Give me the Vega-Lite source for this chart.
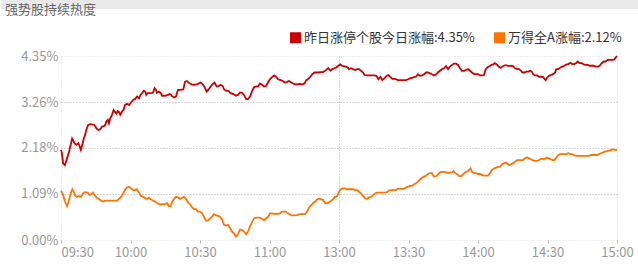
{
  "$schema": "https://vega.github.io/schema/vega-lite/v6.json",
  "padding": 0,
  "background": "white",
  "columns": 1,
  "align": "none",
  "spacing": 13,
  "resolve": {"scale": {"color": "independent"}, "legend": {"color": "independent"}},
  "config": {"font": "Noto Sans CJK SC", "view": {"stroke": null}},
  "datasets": {
    "zt": [
      {"m":0,"v":2.13},{"m":0.4,"v":2.05},{"m":0.9,"v":1.81},{"m":1.7,"v":1.77},{"m":2.6,"v":1.93},{"m":3.5,"v":2.09},{"m":4.0,"v":2.21},{"m":4.8,"v":2.40},{"m":5.2,"v":2.36},{"m":5.8,"v":2.29},{"m":6.6,"v":2.25},{"m":7.5,"v":2.29},{"m":8.1,"v":2.21},{"m":8.6,"v":2.13},{"m":9.2,"v":2.25},{"m":9.8,"v":2.40},{"m":10.4,"v":2.48},{"m":10.9,"v":2.60},{"m":11.7,"v":2.72},{"m":12.7,"v":2.74},{"m":14.4,"v":2.72},{"m":15.3,"v":2.64},{"m":16.1,"v":2.60},{"m":17.0,"v":2.62},{"m":17.7,"v":2.68},{"m":18.9,"v":2.70},{"m":19.6,"v":2.80},{"m":20.2,"v":2.84},{"m":20.7,"v":2.76},{"m":21.3,"v":2.88},{"m":22.0,"v":2.96},{"m":22.7,"v":3.07},{"m":23.3,"v":3.03},{"m":23.9,"v":2.99},{"m":24.5,"v":3.05},{"m":25.0,"v":3.03},{"m":25.6,"v":2.96},{"m":26.3,"v":3.03},{"m":27.1,"v":3.09},{"m":27.6,"v":3.19},{"m":28.5,"v":3.22},{"m":29.4,"v":3.19},{"m":30.2,"v":3.25},{"m":31.1,"v":3.31},{"m":31.9,"v":3.33},{"m":32.8,"v":3.39},{"m":33.7,"v":3.35},{"m":34.3,"v":3.43},{"m":35.0,"v":3.47},{"m":35.7,"v":3.53},{"m":36.4,"v":3.51},{"m":36.8,"v":3.43},{"m":37.4,"v":3.47},{"m":38.6,"v":3.47},{"m":39.7,"v":3.48},{"m":40.4,"v":3.59},{"m":41.0,"v":3.55},{"m":41.4,"v":3.48},{"m":42.3,"v":3.51},{"m":43.2,"v":3.47},{"m":43.6,"v":3.41},{"m":45.0,"v":3.41},{"m":46.1,"v":3.43},{"m":46.9,"v":3.45},{"m":47.6,"v":3.43},{"m":47.9,"v":3.40},{"m":48.8,"v":3.37},{"m":49.6,"v":3.39},{"m":50.5,"v":3.55},{"m":51.4,"v":3.55},{"m":52.8,"v":3.56},{"m":53.5,"v":3.74},{"m":54.3,"v":3.76},{"m":55.1,"v":3.72},{"m":56.3,"v":3.68},{"m":57.4,"v":3.67},{"m":58.6,"v":3.68},{"m":59.4,"v":3.70},{"m":60.3,"v":3.72},{"m":61.2,"v":3.68},{"m":62.0,"v":3.61},{"m":62.9,"v":3.51},{"m":63.7,"v":3.56},{"m":64.6,"v":3.63},{"m":65.5,"v":3.69},{"m":66.3,"v":3.72},{"m":67.2,"v":3.63},{"m":68.1,"v":3.64},{"m":68.9,"v":3.67},{"m":69.8,"v":3.64},{"m":70.4,"v":3.56},{"m":71.2,"v":3.53},{"m":72.4,"v":3.52},{"m":73.2,"v":3.47},{"m":74.4,"v":3.45},{"m":75.5,"v":3.41},{"m":76.4,"v":3.43},{"m":77.3,"v":3.49},{"m":78.1,"v":3.48},{"m":79.0,"v":3.43},{"m":79.9,"v":3.33},{"m":80.7,"v":3.33},{"m":81.6,"v":3.39},{"m":82.5,"v":3.52},{"m":83.3,"v":3.61},{"m":84.2,"v":3.63},{"m":85.0,"v":3.63},{"m":85.9,"v":3.70},{"m":86.8,"v":3.67},{"m":87.6,"v":3.63},{"m":88.5,"v":3.64},{"m":89.4,"v":3.73},{"m":90.2,"v":3.80},{"m":91.1,"v":3.85},{"m":92.0,"v":3.89},{"m":92.8,"v":3.86},{"m":93.7,"v":3.80},{"m":94.8,"v":3.78},{"m":95.7,"v":3.76},{"m":96.7,"v":3.72},{"m":97.6,"v":3.74},{"m":98.4,"v":3.76},{"m":99.3,"v":3.73},{"m":100.2,"v":3.70},{"m":101.0,"v":3.68},{"m":101.9,"v":3.68},{"m":103.0,"v":3.69},{"m":104.2,"v":3.68},{"m":105.1,"v":3.70},{"m":105.9,"v":3.78},{"m":106.8,"v":3.81},{"m":107.6,"v":3.86},{"m":108.5,"v":3.92},{"m":109.4,"v":3.96},{"m":110.2,"v":3.96},{"m":111.1,"v":3.96},{"m":112.0,"v":3.97},{"m":113.1,"v":3.97},{"m":114.0,"v":4.00},{"m":114.8,"v":4.04},{"m":115.4,"v":4.06},{"m":116.3,"v":4.00},{"m":117.1,"v":4.04},{"m":118.0,"v":4.06},{"m":118.9,"v":4.08},{"m":119.7,"v":4.12},{"m":120.6,"v":4.15},{"m":121.2,"v":4.12},{"m":122.0,"v":4.11},{"m":122.9,"v":4.10},{"m":123.8,"v":4.08},{"m":124.3,"v":4.04},{"m":125.2,"v":4.06},{"m":126.1,"v":4.04},{"m":126.9,"v":4.02},{"m":127.8,"v":4.04},{"m":128.7,"v":4.04},{"m":129.5,"v":4.00},{"m":130.4,"v":3.96},{"m":131.0,"v":3.90},{"m":131.8,"v":3.89},{"m":133.0,"v":3.89},{"m":134.1,"v":3.89},{"m":135.3,"v":3.89},{"m":136.1,"v":3.88},{"m":137.0,"v":3.80},{"m":137.9,"v":3.86},{"m":138.7,"v":3.78},{"m":139.6,"v":3.82},{"m":140.5,"v":3.88},{"m":141.3,"v":3.90},{"m":142.2,"v":3.85},{"m":143.0,"v":3.81},{"m":144.2,"v":3.81},{"m":145.5,"v":3.78},{"m":146.6,"v":3.78},{"m":147.8,"v":3.78},{"m":148.9,"v":3.78},{"m":149.8,"v":3.80},{"m":150.6,"v":3.82},{"m":151.5,"v":3.83},{"m":152.4,"v":3.85},{"m":153.2,"v":3.86},{"m":154.1,"v":3.92},{"m":155.0,"v":3.88},{"m":155.8,"v":3.89},{"m":156.7,"v":3.92},{"m":157.6,"v":3.96},{"m":158.4,"v":3.96},{"m":159.3,"v":3.94},{"m":160.1,"v":3.92},{"m":161.0,"v":3.89},{"m":161.9,"v":3.91},{"m":162.7,"v":3.96},{"m":163.6,"v":4.00},{"m":164.5,"v":4.04},{"m":165.3,"v":4.06},{"m":166.2,"v":4.11},{"m":167.1,"v":4.04},{"m":167.9,"v":4.10},{"m":168.8,"v":4.14},{"m":169.6,"v":4.17},{"m":170.5,"v":4.17},{"m":171.4,"v":4.14},{"m":172.2,"v":4.06},{"m":173.1,"v":4.00},{"m":174.0,"v":4.00},{"m":174.8,"v":4.02},{"m":175.7,"v":4.04},{"m":176.6,"v":4.00},{"m":177.4,"v":3.96},{"m":178.3,"v":3.92},{"m":179.1,"v":3.92},{"m":180.0,"v":3.92},{"m":180.9,"v":3.89},{"m":181.7,"v":3.89},{"m":182.6,"v":3.90},{"m":183.2,"v":4.02},{"m":184.0,"v":4.08},{"m":184.9,"v":4.11},{"m":185.8,"v":4.14},{"m":186.6,"v":4.15},{"m":187.2,"v":4.18},{"m":188.1,"v":4.15},{"m":188.9,"v":4.10},{"m":189.8,"v":4.07},{"m":190.7,"v":4.11},{"m":191.5,"v":4.13},{"m":192.4,"v":4.13},{"m":193.2,"v":4.11},{"m":194.3,"v":4.12},{"m":195.1,"v":4.11},{"m":196.0,"v":4.06},{"m":196.9,"v":4.04},{"m":197.7,"v":4.04},{"m":198.6,"v":4.00},{"m":199.2,"v":3.96},{"m":200.0,"v":3.96},{"m":200.9,"v":3.98},{"m":201.8,"v":3.98},{"m":202.6,"v":4.00},{"m":203.2,"v":3.98},{"m":203.8,"v":3.92},{"m":204.6,"v":3.89},{"m":205.5,"v":3.89},{"m":206.4,"v":3.86},{"m":207.2,"v":3.86},{"m":208.1,"v":3.85},{"m":208.7,"v":3.81},{"m":209.2,"v":3.78},{"m":209.8,"v":3.84},{"m":210.7,"v":3.88},{"m":211.5,"v":3.90},{"m":212.4,"v":3.92},{"m":213.3,"v":3.96},{"m":213.8,"v":4.04},{"m":214.7,"v":4.04},{"m":215.6,"v":4.08},{"m":216.4,"v":4.10},{"m":217.3,"v":4.12},{"m":218.2,"v":4.15},{"m":219.0,"v":4.16},{"m":219.9,"v":4.19},{"m":220.7,"v":4.16},{"m":221.6,"v":4.16},{"m":222.5,"v":4.19},{"m":223.0,"v":4.22},{"m":223.9,"v":4.18},{"m":224.8,"v":4.18},{"m":225.6,"v":4.15},{"m":226.5,"v":4.14},{"m":227.4,"v":4.14},{"m":228.2,"v":4.12},{"m":229.1,"v":4.12},{"m":230.0,"v":4.12},{"m":230.8,"v":4.10},{"m":231.7,"v":4.10},{"m":232.5,"v":4.12},{"m":233.4,"v":4.18},{"m":234.3,"v":4.22},{"m":235.1,"v":4.22},{"m":236.0,"v":4.26},{"m":236.9,"v":4.26},{"m":238.0,"v":4.26},{"m":238.9,"v":4.27},{"m":239.5,"v":4.32},{"m":240,"v":4.35}
    ],
    "wd": [
      {"m":0,"v":1.17},{"m":0.9,"v":1.06},{"m":1.7,"v":0.91},{"m":2.6,"v":0.80},{"m":3.5,"v":0.95},{"m":4.3,"v":1.12},{"m":4.9,"v":1.20},{"m":5.5,"v":1.14},{"m":6.0,"v":1.06},{"m":6.9,"v":1.02},{"m":7.8,"v":1.04},{"m":8.6,"v":1.02},{"m":9.5,"v":1.10},{"m":10.4,"v":1.13},{"m":11.5,"v":1.12},{"m":12.4,"v":1.06},{"m":13.2,"v":1.09},{"m":13.8,"v":1.12},{"m":14.7,"v":1.04},{"m":15.5,"v":1.00},{"m":16.4,"v":0.97},{"m":17.3,"v":0.93},{"m":18.1,"v":0.91},{"m":19.1,"v":0.93},{"m":20.6,"v":0.93},{"m":22.0,"v":0.93},{"m":24.2,"v":0.93},{"m":25.0,"v":0.97},{"m":25.9,"v":1.02},{"m":26.8,"v":1.10},{"m":27.6,"v":1.18},{"m":28.5,"v":1.24},{"m":29.4,"v":1.26},{"m":30.2,"v":1.22},{"m":31.1,"v":1.18},{"m":31.9,"v":1.18},{"m":32.8,"v":1.20},{"m":33.7,"v":1.12},{"m":34.5,"v":1.04},{"m":35.4,"v":1.02},{"m":36.3,"v":0.99},{"m":37.1,"v":0.97},{"m":38.0,"v":1.00},{"m":38.9,"v":0.96},{"m":39.7,"v":0.93},{"m":40.6,"v":0.91},{"m":41.4,"v":0.88},{"m":42.3,"v":0.85},{"m":43.2,"v":0.84},{"m":44.0,"v":0.85},{"m":44.9,"v":0.85},{"m":45.8,"v":0.87},{"m":46.6,"v":0.80},{"m":47.3,"v":0.80},{"m":47.9,"v":0.89},{"m":48.8,"v":0.97},{"m":49.6,"v":1.02},{"m":50.5,"v":1.01},{"m":51.4,"v":0.97},{"m":52.2,"v":1.00},{"m":53.1,"v":1.02},{"m":54.0,"v":0.97},{"m":54.8,"v":0.89},{"m":55.7,"v":0.84},{"m":56.6,"v":0.77},{"m":57.4,"v":0.73},{"m":58.3,"v":0.73},{"m":59.1,"v":0.67},{"m":60.0,"v":0.67},{"m":60.9,"v":0.63},{"m":61.7,"v":0.55},{"m":62.6,"v":0.46},{"m":63.5,"v":0.46},{"m":64.3,"v":0.51},{"m":65.2,"v":0.55},{"m":66.0,"v":0.61},{"m":66.9,"v":0.58},{"m":67.8,"v":0.57},{"m":68.6,"v":0.55},{"m":69.5,"v":0.49},{"m":70.4,"v":0.36},{"m":71.2,"v":0.34},{"m":72.1,"v":0.36},{"m":73.0,"v":0.28},{"m":73.8,"v":0.20},{"m":74.7,"v":0.16},{"m":75.5,"v":0.08},{"m":76.4,"v":0.14},{"m":77.3,"v":0.25},{"m":78.1,"v":0.24},{"m":79.0,"v":0.20},{"m":79.9,"v":0.14},{"m":80.7,"v":0.20},{"m":81.6,"v":0.32},{"m":82.5,"v":0.43},{"m":83.3,"v":0.51},{"m":84.2,"v":0.53},{"m":85.0,"v":0.53},{"m":85.9,"v":0.53},{"m":86.8,"v":0.50},{"m":87.6,"v":0.47},{"m":88.5,"v":0.51},{"m":89.4,"v":0.55},{"m":90.2,"v":0.63},{"m":91.1,"v":0.63},{"m":92.0,"v":0.62},{"m":92.8,"v":0.62},{"m":93.7,"v":0.62},{"m":94.5,"v":0.63},{"m":95.4,"v":0.67},{"m":96.4,"v":0.67},{"m":97.0,"v":0.67},{"m":97.9,"v":0.63},{"m":98.7,"v":0.61},{"m":99.6,"v":0.58},{"m":100.7,"v":0.58},{"m":101.9,"v":0.59},{"m":103.0,"v":0.61},{"m":104.2,"v":0.61},{"m":105.3,"v":0.61},{"m":106.2,"v":0.67},{"m":107.1,"v":0.77},{"m":107.9,"v":0.82},{"m":108.8,"v":0.87},{"m":109.7,"v":0.91},{"m":110.5,"v":0.96},{"m":111.4,"v":0.98},{"m":112.2,"v":0.96},{"m":113.1,"v":0.95},{"m":114.0,"v":0.87},{"m":114.8,"v":0.87},{"m":115.7,"v":0.89},{"m":116.6,"v":0.93},{"m":117.4,"v":0.96},{"m":118.3,"v":1.02},{"m":119.2,"v":1.04},{"m":120.0,"v":1.14},{"m":120.9,"v":1.20},{"m":121.7,"v":1.22},{"m":122.6,"v":1.22},{"m":123.5,"v":1.20},{"m":124.6,"v":1.20},{"m":126.1,"v":1.20},{"m":126.9,"v":1.18},{"m":127.8,"v":1.18},{"m":128.7,"v":1.14},{"m":129.5,"v":1.10},{"m":130.4,"v":1.04},{"m":131.2,"v":0.99},{"m":132.1,"v":0.97},{"m":133.0,"v":1.01},{"m":133.8,"v":1.02},{"m":134.7,"v":1.06},{"m":135.6,"v":1.10},{"m":136.4,"v":1.12},{"m":137.6,"v":1.12},{"m":138.7,"v":1.12},{"m":139.9,"v":1.12},{"m":140.7,"v":1.13},{"m":141.6,"v":1.17},{"m":142.5,"v":1.18},{"m":143.6,"v":1.18},{"m":144.5,"v":1.18},{"m":145.5,"v":1.21},{"m":146.3,"v":1.21},{"m":147.2,"v":1.21},{"m":148.1,"v":1.21},{"m":148.9,"v":1.24},{"m":149.8,"v":1.26},{"m":150.6,"v":1.28},{"m":151.5,"v":1.28},{"m":152.4,"v":1.32},{"m":153.2,"v":1.34},{"m":154.1,"v":1.38},{"m":155.0,"v":1.43},{"m":155.8,"v":1.47},{"m":156.7,"v":1.50},{"m":157.6,"v":1.52},{"m":158.4,"v":1.56},{"m":159.3,"v":1.58},{"m":160.1,"v":1.58},{"m":161.0,"v":1.50},{"m":161.9,"v":1.51},{"m":162.7,"v":1.54},{"m":163.6,"v":1.60},{"m":164.5,"v":1.61},{"m":165.3,"v":1.61},{"m":166.2,"v":1.60},{"m":167.1,"v":1.59},{"m":167.9,"v":1.59},{"m":168.8,"v":1.60},{"m":169.4,"v":1.63},{"m":170.2,"v":1.58},{"m":171.1,"v":1.55},{"m":171.9,"v":1.51},{"m":172.8,"v":1.51},{"m":173.7,"v":1.56},{"m":174.5,"v":1.60},{"m":175.4,"v":1.62},{"m":176.3,"v":1.66},{"m":176.8,"v":1.69},{"m":177.4,"v":1.61},{"m":178.3,"v":1.58},{"m":179.1,"v":1.58},{"m":180.0,"v":1.56},{"m":180.9,"v":1.56},{"m":181.7,"v":1.54},{"m":182.6,"v":1.52},{"m":183.5,"v":1.52},{"m":184.3,"v":1.52},{"m":185.2,"v":1.58},{"m":186.0,"v":1.66},{"m":186.9,"v":1.69},{"m":187.8,"v":1.71},{"m":188.6,"v":1.73},{"m":189.5,"v":1.73},{"m":190.4,"v":1.79},{"m":191.2,"v":1.81},{"m":192.1,"v":1.83},{"m":193.0,"v":1.79},{"m":193.4,"v":1.77},{"m":194.3,"v":1.79},{"m":195.1,"v":1.81},{"m":196.0,"v":1.85},{"m":196.9,"v":1.89},{"m":197.7,"v":1.89},{"m":198.6,"v":1.89},{"m":199.4,"v":1.89},{"m":200.3,"v":1.93},{"m":201.2,"v":1.95},{"m":202.0,"v":1.93},{"m":202.9,"v":1.91},{"m":203.8,"v":1.88},{"m":204.6,"v":1.87},{"m":205.5,"v":1.87},{"m":206.4,"v":1.89},{"m":207.2,"v":1.92},{"m":208.1,"v":1.92},{"m":208.9,"v":1.92},{"m":209.8,"v":1.95},{"m":210.4,"v":1.93},{"m":211.2,"v":1.92},{"m":212.1,"v":1.89},{"m":213.0,"v":1.89},{"m":213.8,"v":1.95},{"m":214.7,"v":2.01},{"m":215.6,"v":2.03},{"m":216.4,"v":2.03},{"m":217.3,"v":2.03},{"m":218.2,"v":2.03},{"m":219.0,"v":2.05},{"m":219.9,"v":2.03},{"m":220.7,"v":2.03},{"m":221.6,"v":2.00},{"m":222.5,"v":1.99},{"m":223.6,"v":1.99},{"m":224.8,"v":1.99},{"m":225.9,"v":1.99},{"m":227.1,"v":1.99},{"m":227.9,"v":1.99},{"m":228.8,"v":2.01},{"m":229.7,"v":2.01},{"m":230.5,"v":2.01},{"m":231.4,"v":2.01},{"m":232.3,"v":2.03},{"m":233.1,"v":2.05},{"m":234.0,"v":2.07},{"m":234.8,"v":2.09},{"m":235.7,"v":2.10},{"m":236.6,"v":2.11},{"m":237.4,"v":2.13},{"m":238.3,"v":2.14},{"m":239.2,"v":2.13},{"m":240,"v":2.12}
    ]
  },
  "concat": [
    {
      "width": 578,
      "height": 18,
      "view": {"fill": null, "stroke": null},
      "data": {"values": [{"t": "强势股持续热度", "x0": -0.10381, "x1": 1, "y0": 0, "y1": 1}]},
      "encoding": {
        "x": {"field": "x0", "type": "quantitative", "scale": {"domain": [0, 1], "nice": false, "zero": false}, "axis": null},
        "y": {"datum": 0.5, "type": "quantitative", "scale": {"domain": [0, 1], "nice": false}, "axis": null}
      },
      "layer": [
        {
          "mark": {"type": "rect", "color": "#e9e9e9"},
          "encoding": {
            "x2": {"field": "x1"},
            "y": {"field": "y0", "type": "quantitative"},
            "y2": {"field": "y1"}
          }
        },
        {
          "mark": {"type": "text", "align": "left", "baseline": "middle", "dx": 4, "dy": 1, "fontSize": 13, "color": "#666666"},
          "encoding": {"text": {"field": "t"}}
        }
      ]
    },
    {
      "width": 556,
      "height": 184,
      "encoding": {
        "x": {
          "field": "m", "type": "quantitative",
          "scale": {"domain": [0, 240], "nice": false, "zero": false},
          "axis": {
            "values": [0, 30, 60, 90, 120, 150, 180, 210, 240],
            "title": null, "domain": false, "grid": true, "gridDash": [1, 2],
            "gridColor": {"condition": [{"test": "datum.value == 120", "value": "#aaaaaa"}, {"test": "datum.value == 0 || datum.value == 240", "value": "#dddddd"}], "value": "rgba(0,0,0,0)"},
            "ticks": true, "tickSize": 3, "tickColor": "#bbbbbb",
            "labelExpr": "['09:30','10:00','10:30','11:00','13:00','13:30','14:00','14:30','15:00'][round(datum.value/30)]",
            "labelAlign": {"condition": {"test": "datum.value == 0", "value": "left"}, "value": "center"},
            "labelFlush": false, "labelColor": "#999999", "labelFontSize": 13, "labelPadding": 3
          }
        },
        "y": {
          "field": "v", "type": "quantitative",
          "scale": {"domain": [0, 4.35], "nice": false},
          "axis": {
            "values": [0, 1.09, 2.18, 3.26, 4.35],
            "title": null, "domain": false, "ticks": false, "grid": true, "gridDash": [1, 2],
            "gridColor": {"condition": {"test": "datum.value == 0 || datum.value == 4.35", "value": "#dddddd"}, "value": "#aaaaaa"},
            "labelExpr": "format(datum.value, '.2f') + '%'",
            "labelColor": "#999999", "labelFontSize": 13, "labelPadding": 3, "labelBaseline": "middle",
            "minExtent": 60, "maxExtent": 60
          }
        }
      },
      "layer": [
        {
          "data": {"name": "zt"},
          "mark": {"type": "line", "strokeWidth": 1.8},
          "encoding": {
            "color": {
              "datum": "昨日涨停个股今日涨幅",
              "scale": {"domain": ["昨日涨停个股今日涨幅", "万得全A涨幅"], "range": ["#cc0000", "#ff7300"]},
              "legend": {
                "orient": "none", "legendX": 228, "legendY": -25, "direction": "horizontal", "title": null,
                "symbolType": "square", "symbolSize": 4, "symbolStrokeWidth": 9, "symbolOpacity": 1,
                "labelFontSize": 13, "labelColor": "#333333", "labelOffset": 2, "labelLimit": 0, "columnPadding": 5, "padding": 0,
                "labelExpr": "datum.label == '昨日涨停个股今日涨幅' ? '昨日涨停个股今日涨幅:4.35%' : '万得全A涨幅:2.12%'"
              }
            }
          }
        },
        {
          "data": {"name": "wd"},
          "mark": {"type": "line", "strokeWidth": 1.8},
          "encoding": {"color": {"datum": "万得全A涨幅"}}
        }
      ]
    }
  ]
}
